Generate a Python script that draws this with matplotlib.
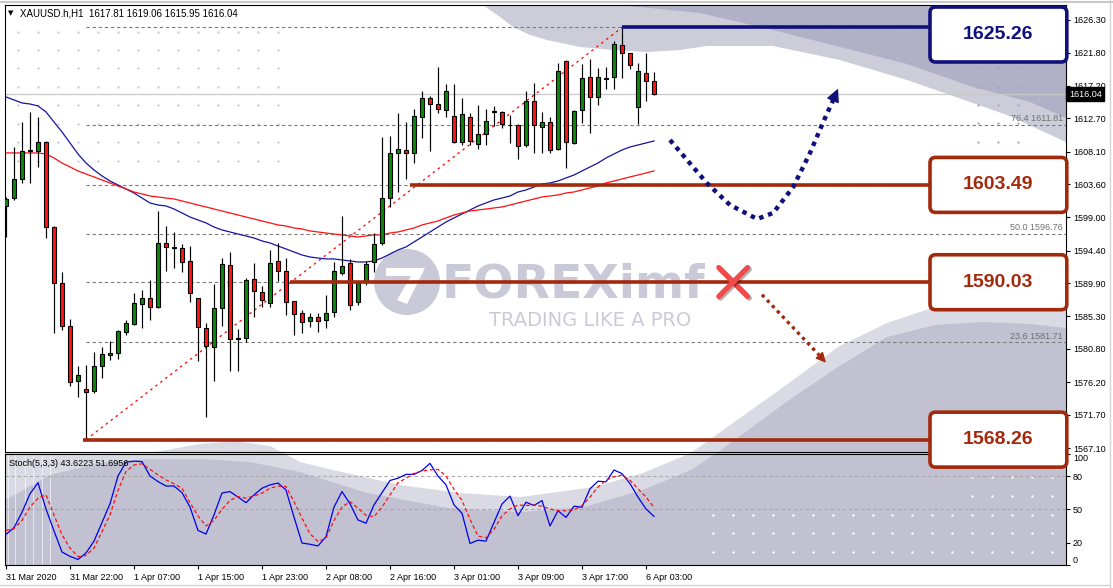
import matplotlib.pyplot as plt
import matplotlib.transforms as mtransforms
import matplotlib.patheffects as pe
from matplotlib.patches import FancyBboxPatch, Circle, Polygon
from matplotlib.lines import Line2D
import numpy as np

W, H = 1113, 588

# --- XAUUSD H1 candles ---
opens = [1600.58, 1601.64, 1604.27, 1608.15, 1608.22, 1609.39, 1597.63, 1589.89, 1584.02, 1576.42,
         1575.20, 1574.99, 1578.49, 1579.90, 1580.20, 1583.20, 1584.20, 1586.98, 1587.81, 1586.65,
         1595.42, 1594.85, 1594.73, 1592.97, 1587.81, 1583.66, 1581.03, 1586.43, 1592.42, 1582.20,
         1582.28, 1590.44, 1588.64, 1587.20, 1593.01, 1591.54, 1587.44, 1585.74, 1584.67, 1585.18,
         1584.81, 1585.87, 1591.35, 1592.65, 1587.30, 1590.20, 1592.79, 1595.50, 1601.64, 1607.86,
         1608.32, 1607.86, 1612.93, 1615.47, 1614.68, 1613.85, 1613.02, 1609.47, 1612.93, 1609.11,
         1610.49, 1613.55, 1613.53, 1611.75, 1611.78, 1609.01, 1615.10, 1611.54, 1612.23, 1608.42,
         1620.67, 1609.25, 1613.85, 1618.38, 1615.61, 1618.20, 1618.38, 1622.84, 1621.69, 1614.31,
         1619.01, 1617.81]
highs = [1601.86, 1608.78, 1612.23, 1613.62, 1612.93, 1609.50, 1597.85, 1591.41, 1584.95, 1578.45,
         1578.59, 1580.43, 1581.12, 1581.91, 1583.43, 1584.81, 1588.59, 1588.96, 1590.34, 1599.88,
         1597.81, 1596.94, 1595.32, 1595.09, 1587.90, 1584.44, 1589.79, 1593.34, 1594.17, 1583.52,
         1590.58, 1592.65, 1589.51, 1594.49, 1595.42, 1593.34, 1587.50, 1586.19, 1585.74, 1585.74,
         1588.27, 1592.79, 1599.23, 1593.20, 1590.00, 1592.97, 1596.80, 1610.08, 1610.26, 1613.40,
         1612.23, 1613.95, 1616.48, 1615.79, 1619.84, 1617.45, 1617.45, 1615.47, 1613.48, 1614.54,
         1613.95, 1614.41, 1613.71, 1613.16, 1611.85, 1616.52, 1617.55, 1613.62, 1612.84, 1620.39,
         1620.75, 1613.80, 1620.17, 1620.86, 1619.62, 1619.76, 1623.40, 1625.26, 1621.80, 1620.31,
         1621.80, 1619.06]
lows = [1596.33, 1601.40, 1603.80, 1603.72, 1606.01, 1596.11, 1583.05, 1583.43, 1575.72, 1574.20,
        1568.26, 1574.68, 1576.83, 1579.28, 1579.38, 1582.74, 1584.10, 1583.66, 1584.81, 1586.50,
        1591.63, 1591.96, 1591.49, 1587.34, 1579.18, 1571.44, 1576.42, 1583.98, 1577.80, 1577.80,
        1581.81, 1585.27, 1586.57, 1586.57, 1590.25, 1585.50, 1582.74, 1582.97, 1583.80, 1583.11,
        1583.66, 1585.27, 1591.00, 1586.19, 1586.90, 1589.65, 1591.49, 1595.18, 1600.48, 1602.47,
        1604.27, 1606.56, 1609.94, 1608.22, 1613.48, 1612.84, 1609.30, 1609.01, 1609.01, 1608.42,
        1609.01, 1611.64, 1611.32, 1609.33, 1607.03, 1608.78, 1607.95, 1607.95, 1607.95, 1608.30,
        1605.79, 1609.15, 1612.01, 1610.63, 1614.54, 1616.72, 1616.72, 1618.24, 1619.48, 1611.88,
        1615.14, 1615.95]
closes = [1601.55, 1604.27, 1608.18, 1608.25, 1609.39, 1597.63, 1589.89, 1584.02, 1576.28, 1577.20,
          1574.90, 1578.49, 1580.07, 1580.20, 1583.29, 1584.35, 1587.12, 1587.81, 1586.57, 1595.42,
          1594.95, 1594.75, 1592.87, 1588.50, 1583.80, 1581.21, 1586.43, 1592.55, 1582.14, 1582.35,
          1590.34, 1588.82, 1587.58, 1592.65, 1591.63, 1587.34, 1585.60, 1584.58, 1585.18, 1584.67,
          1585.74, 1591.59, 1592.28, 1586.88, 1589.89, 1592.51, 1595.28, 1601.64, 1607.86, 1608.42,
          1607.86, 1613.02, 1615.47, 1614.68, 1613.95, 1616.52, 1609.39, 1613.26, 1609.57, 1610.49,
          1612.33, 1613.70, 1611.88, 1611.82, 1608.92, 1615.10, 1611.78, 1612.23, 1608.32, 1619.29,
          1609.47, 1613.71, 1618.24, 1615.61, 1618.38, 1618.28, 1622.94, 1621.69, 1620.08, 1619.25,
          1617.91, 1616.04]

ma_blue = [1615.65, 1615.24, 1614.82, 1614.68, 1614.41, 1613.58, 1612.19, 1610.81, 1609.29, 1607.77,
           1606.52, 1605.55, 1604.73, 1604.03, 1603.48, 1602.93, 1602.37, 1601.68, 1600.99, 1600.71,
           1600.58, 1600.16, 1599.61, 1599.05, 1598.64, 1598.23, 1597.67, 1597.26, 1596.98, 1596.70,
           1596.43, 1596.15, 1595.74, 1595.46, 1595.04, 1594.63, 1594.21, 1593.80, 1593.52, 1593.38,
           1593.25, 1593.25, 1593.11, 1592.97, 1592.83, 1592.83, 1592.97, 1593.38, 1593.94, 1594.49,
           1594.91, 1595.60, 1596.29, 1596.98, 1597.67, 1598.36, 1598.92, 1599.47, 1600.02, 1600.58,
           1600.99, 1601.41, 1601.68, 1601.96, 1602.51, 1602.79, 1603.20, 1603.62, 1603.76, 1604.03,
           1604.45, 1604.86, 1605.42, 1605.97, 1606.52, 1607.21, 1607.77, 1608.32, 1608.74, 1609.01,
           1609.29, 1609.57]
ma_red = [1607.91, 1607.91, 1607.91, 1607.91, 1607.91, 1607.77, 1607.21, 1606.52, 1605.97, 1605.42,
          1605.00, 1604.59, 1604.17, 1603.76, 1603.34, 1602.93, 1602.51, 1602.24, 1601.96, 1601.82,
          1601.68, 1601.54, 1601.27, 1600.99, 1600.71, 1600.44, 1600.16, 1599.88, 1599.61, 1599.33,
          1599.05, 1598.78, 1598.50, 1598.23, 1597.95, 1597.81, 1597.53, 1597.40, 1597.12, 1596.98,
          1596.84, 1596.70, 1596.57, 1596.43, 1596.29, 1596.43, 1596.57, 1596.57, 1596.84, 1596.98,
          1597.26, 1597.53, 1597.95, 1598.23, 1598.50, 1598.92, 1599.33, 1599.61, 1599.88, 1600.02,
          1600.16, 1600.30, 1600.44, 1600.71, 1600.99, 1601.27, 1601.54, 1601.82, 1601.96, 1602.10,
          1602.37, 1602.51, 1602.79, 1603.07, 1603.34, 1603.76, 1604.03, 1604.31, 1604.59, 1604.86,
          1605.14, 1605.42]

stoch_k = [27.4, 33.5, 47.3, 64.0, 74.0, 50.3, 30.5, 11.5, 7.6, 4.8,
           10.6, 21.3, 38.1, 55.0, 80.0, 92.5, 93.4, 93.0, 80.0, 75.0,
           71.0, 71.0, 65.0, 52.0, 31.0, 27.7, 45.0, 64.7, 66.0, 61.0,
           56.0, 63.0, 69.0, 72.0, 73.7, 67.4, 43.0, 19.6, 18.5, 17.0,
           25.3, 52.0, 66.0, 55.0, 40.4, 37.5, 54.0, 65.0, 76.0, 78.0,
           81.5, 81.5, 85.0, 91.4, 80.0, 72.0, 54.0, 46.4, 19.2, 22.2,
           21.3, 38.1, 54.8, 61.9, 44.2, 56.4, 53.4, 57.9, 35.0, 48.7,
           42.7, 52.8, 51.9, 68.5, 75.3, 74.8, 85.4, 82.2, 73.2, 61.0,
           50.3, 43.6]
stoch_d = [31.0, 32.5, 40.0, 52.0, 60.0, 63.0, 45.0, 27.0, 15.0, 7.3,
           8.5, 15.0, 30.0, 45.0, 67.0, 84.0, 90.0, 91.0, 86.0, 81.0,
           76.5, 73.0, 69.0, 56.0, 44.0, 35.0, 40.0, 50.0, 58.0, 61.5,
           60.0, 62.0, 64.5, 69.0, 71.0, 70.5, 57.0, 42.0, 28.0, 21.0,
           24.0, 40.0, 52.0, 56.9, 51.0, 44.5, 43.4, 52.0, 63.0, 74.0,
           78.0, 82.4, 84.5, 85.5, 86.0, 80.0, 68.0, 58.0, 41.1, 25.9,
           24.3, 32.0, 44.2, 50.3, 53.9, 53.4, 53.9, 52.8, 50.3, 48.7,
           48.7, 49.6, 53.4, 61.0, 70.1, 76.2, 79.3, 80.8, 76.2, 68.5,
           61.0, 51.7]

date_ticks = [0, 8, 16, 24, 32, 40, 48, 56, 64, 72, 80]
date_labels = ['31 Mar 2020', '31 Mar 22:00', '1 Apr 07:00', '1 Apr 15:00', '1 Apr 23:00',
               '2 Apr 08:00', '2 Apr 16:00', '3 Apr 01:00', '3 Apr 09:00', '3 Apr 17:00',
               '6 Apr 03:00']
price_ticks = [1626.30, 1621.80, 1617.20, 1612.70, 1608.10, 1603.60, 1599.00, 1594.40,
               1589.90, 1585.30, 1580.80, 1576.20, 1571.70, 1567.10]
stoch_ticks = [100, 80, 50, 20, 0]
stoch_levels = [80, 50]

fib_levels = [1625.26, 1611.81, 1603.49, 1596.76, 1590.03, 1581.71, 1568.26]
fib_from_bar, fib_to_bar = 10, 77
# only these fib captions are visible, the rest sit under the level boxes
fib_shown = ['76.4', '50.0', '23.6']
fib_shown_levels = [1611.81, 1596.76, 1581.71]

key_levels = [1625.26, 1603.49, 1590.03, 1568.26]
key_starts = [77, 50.5, 35.5, 9.6]
box_centers = [1624.29, 1603.49, 1590.03, 1568.26]
navy, brown = '#10107c', '#a3290c'
key_colors = [navy, brown, brown, brown]
last_price = 1616.04

# projected moves (bar index, price)
up_path_x = [83.0, 87.6, 90.5, 93.9, 95.9, 98.4, 100.5, 102.1, 103.4]
up_path_y = [1609.70, 1603.75, 1600.71, 1598.78, 1599.61, 1603.20, 1607.90, 1612.05, 1615.24]
up_tip = (104.0, 1616.8)
down_path_x = [94.5, 101.6]
down_path_y = [1588.3, 1580.0]
down_tip = (102.5, 1578.9)
cross_at = (90.9, 1590.06)

plt.rcParams['font.family'] = ['Liberation Sans', 'DejaVu Sans']

fig = plt.figure(figsize=(W / 100, H / 100), dpi=100)


def frac(x0, y0, x1, y1):
    return [x0 / W, 1 - y1 / H, (x1 - x0) / W, (y1 - y0) / H]


# background layer (pixel units): template shapes, dots, watermark
bg = fig.add_axes([0, 0, 1, 1], zorder=0)
bg.set_xlim(0, W)
bg.set_ylim(H, 0)
bg.axis('off')

top_light_x = [483, 500, 513, 530, 547, 580, 613, 647, 680, 707, 773, 840, 907, 973, 1007, 1066]
top_light_y = [5, 17, 27, 35, 40, 47, 50, 52, 50, 46, 46, 60, 80, 103, 115, 142]
top_dark_x = [613, 650, 700, 773, 840, 907, 973, 1030, 1066]
top_dark_y = [5, 8, 13, 30, 47, 64, 87, 102, 118]
bg.fill(top_light_x + [1066], top_light_y + [5], color='#cdcdda', lw=0)
bg.fill(top_dark_x + [1066], top_dark_y + [5], color='#b0b0c6', lw=0)

low_light_x = [5, 150, 200, 235, 270, 300, 333, 400, 460, 521, 594, 643, 691, 740, 789, 838,
               887, 935, 1000, 1066]
low_light_y = [453, 453, 444, 441, 446, 462, 470, 485, 493, 497, 487, 473, 453, 418, 383, 347,
               323, 307, 300, 298]
low_dark_x = [5, 50, 100, 150, 200, 250, 300, 367, 448, 521, 584, 643, 691, 721, 789, 838, 887,
              935, 984, 1030, 1066]
low_dark_y = [500, 475, 463, 459, 459, 462, 472, 493, 508, 512, 507, 490, 470, 450, 400, 367,
              337, 325, 322, 324, 328]
bg.fill([5] + low_light_x + [1066], [565] + low_light_y + [565], color='#dadae4', lw=0)
bg.fill([5] + low_dark_x + [1066], [565] + low_dark_y + [565], color='#c1c1d1', lw=0)
for vx in [8, 15, 25, 33, 42, 50]:
    bg.plot([vx, vx], [455, 564], color='white', lw=0.7, alpha=0.6)

gx, gy = np.meshgrid(np.arange(18, 279, 20), [32, 50, 68, 87, 105, 124, 142, 161])
bg.scatter(gx.ravel(), gy.ravel(), s=2.5, color='#c6c6d3', lw=0)
gx, gy = np.meshgrid([978, 998, 1018], [68, 87, 105, 123, 142])
bg.scatter(gx.ravel(), gy.ravel(), s=2.5, color='#a4a4b8', lw=0)
gx, gy = np.meshgrid(np.linspace(713, 1052, 18), [515, 533, 552])
bg.scatter(gx.ravel(), gy.ravel(), s=3, color='white', lw=0)
gx, gy = np.meshgrid(np.linspace(972, 1052, 5), [477, 496])
bg.scatter(gx.ravel(), gy.ravel(), s=3, color='white', lw=0)

wm = '#c9c9d7'
bg.add_patch(Circle((407, 282), 33, color=wm, lw=0))
bg.add_patch(Polygon([(386, 268), (425, 268), (407, 304), (397, 300), (411, 276), (386, 276)],
                     closed=True, color='white', lw=0))
bg.text(573, 285, 'FOREXimf', fontsize=34, fontweight='bold', color=wm,
        family='DejaVu Sans', ha='center', va='center')
bg.text(590, 320, 'TRADING LIKE A PRO', fontsize=14, color='#cbcbd8',
        family='DejaVu Sans', ha='center', va='center')

# price panel
ax = fig.add_axes(frac(5, 5, 1066, 451.5), zorder=3)
sx = fig.add_axes(frac(5, 453.5, 1066, 565), zorder=2)
for a in (ax, sx):
    a.set_facecolor('none')
    a.set_xlim(-0.125, 132.5)
    for s in a.spines.values():
        s.set_linewidth(0.8)
ax.set_ylim(1566.62, 1628.37)
sx.set_ylim(-0.2, 100.3)

xs = np.arange(len(opens))
o = np.array(opens)
c = np.array(closes)
doji = np.abs(c - o) < 0.2
colors = np.where(doji, 'black', np.where(c > o, '#0b8a0b', '#ff1414'))

ax.axhline(last_price, color='#c8c8c8', lw=0.9, zorder=1)
ax.hlines(fib_levels, fib_from_bar, 132.5, colors='#7a7a7a', linestyles=(0, (3, 2.5)), lw=0.8, zorder=1)
ax.plot([fib_from_bar, fib_to_bar], [fib_levels[-1], fib_levels[0]], color='red', lw=0.9,
        ls=(0, (2, 3)), zorder=2)
trans = mtransforms.blended_transform_factory(ax.transAxes, ax.transData)
for r, lv in zip(fib_shown, fib_shown_levels):
    ax.text(1 - 3 / 1061, lv + 0.45, f'{r} {lv:.2f}', transform=trans, ha='right', va='baseline',
            fontsize=6.5, color='#707070', zorder=2)

ax.plot(xs, ma_blue, color='#1515a0', lw=0.9, zorder=2)
ax.plot(xs, ma_red, color='#ff1010', lw=0.9, zorder=2)

ax.vlines(xs, lows, highs, color='black', lw=0.85, zorder=3)
ax.bar(xs, np.maximum(np.abs(c - o), 0.06), bottom=np.minimum(o, c), width=0.62, color=colors,
       edgecolor='black', linewidth=0.8, zorder=4)

for lv, st, col, bc in zip(key_levels, key_starts, key_colors, box_centers):
    ax.hlines(lv, st, 115.5, color=col, lw=2.6, zorder=6)
    box = FancyBboxPatch((115.5, bc - 3.8), 17.1, 7.6, boxstyle='round,pad=0,rounding_size=0.7',
                         mutation_aspect=1.107, fc='white', ec=col, lw=2.6, clip_on=False, zorder=7)
    ax.add_patch(box)
    ax.text(124.05, bc, f'{lv:.2f}', ha='center', va='center', fontsize=14, fontweight='bold',
            color=col, clip_on=False, zorder=8)

ax.plot(up_path_x, up_path_y, color=navy, lw=3.2, ls=(0, (1, 1.1)), dash_capstyle='butt', zorder=6)
ax.annotate('', xy=up_tip, xytext=(up_path_x[-1], up_path_y[-1]),
            arrowprops=dict(arrowstyle='-|>', color=navy, lw=1, shrinkA=0, shrinkB=0,
                            mutation_scale=20), zorder=6)
ax.plot(down_path_x, down_path_y, color=brown, lw=2.4, ls=(0, (1, 1.2)), dash_capstyle='butt', zorder=6)
ax.annotate('', xy=down_tip, xytext=(down_path_x[-1], down_path_y[-1]),
            arrowprops=dict(arrowstyle='-|>', color=brown, lw=1, shrinkA=0, shrinkB=0,
                            mutation_scale=15), zorder=6)
cx, cy = cross_at
shadow = [pe.SimpleLineShadow(offset=(1.2, -1.2), alpha=0.3), pe.Normal()]
for dx in (1.8, -1.8):
    ax.plot([cx - dx, cx + dx], [cy + 2.0, cy - 2.0], color='#f04a4a', lw=3.8,
            solid_capstyle='round', zorder=6, path_effects=shadow)

ax.text(1 + 3 / 1061, last_price, f'{last_price:.2f}', transform=trans, ha='left', va='center',
        fontsize=6.5, color='white', clip_on=False, zorder=9,
        bbox=dict(boxstyle='square,pad=0.3', fc='black', ec='black'))

ax.set_xticks([])
ax.yaxis.tick_right()
ax.set_yticks(price_ticks)
ax.set_yticklabels([f'{p:.2f}' for p in price_ticks])
ax.tick_params(axis='y', direction='out', length=3, width=0.8, pad=2, labelsize=6.5)

# stochastic panel
sx.hlines(stoch_levels, -0.125, 132.5, colors='#a8a8a8', linestyles=(0, (3, 2.5)), lw=0.8)
sx.plot(xs, stoch_k, color='#0000ee', lw=0.9)
sx.plot(xs, stoch_d, color='#ff1010', lw=0.9, ls=(0, (3, 2)))
sx.yaxis.tick_right()
sx.set_yticks(stoch_ticks)
sx.set_yticklabels([str(t) for t in stoch_ticks])
labs = sx.get_yticklabels()
labs[0].set_va('top')
labs[-1].set_va('bottom')
sx.tick_params(axis='y', direction='out', length=3, width=0.8, pad=2, labelsize=6.5)
sx.set_xticks(date_ticks)
sx.set_xticklabels(date_labels, ha='left')
sx.tick_params(axis='x', direction='out', length=3, width=0.8, pad=3, labelsize=6.5)

fig.text(8 / W, 1 - 13 / H, '\u25BC', fontsize=5, va='center', family=['DejaVu Sans'])
fig.text(20 / W, 1 - 13 / H, 'XAUUSD.h,H1  1617.81 1619.06 1615.95 1616.04', fontsize=7, va='center')
fig.text(9 / W, 1 - 463 / H, 'Stoch(5,3,3) 43.6223 51.6956', fontsize=6.5, va='center')

fig.add_artist(Line2D([1110 / W] * 2, [0, 1], color='#d4d4d4', lw=1, transform=fig.transFigure))
fig.add_artist(Line2D([0, 1110 / W], [1 - 585 / H] * 2, color='#d4d4d4', lw=1, transform=fig.transFigure))
fig.add_artist(Line2D([0, 1], [1 - 1.5 / H] * 2, color='#c8c8c8', lw=1.5, transform=fig.transFigure))

fig.savefig('out.png', dpi=100)
